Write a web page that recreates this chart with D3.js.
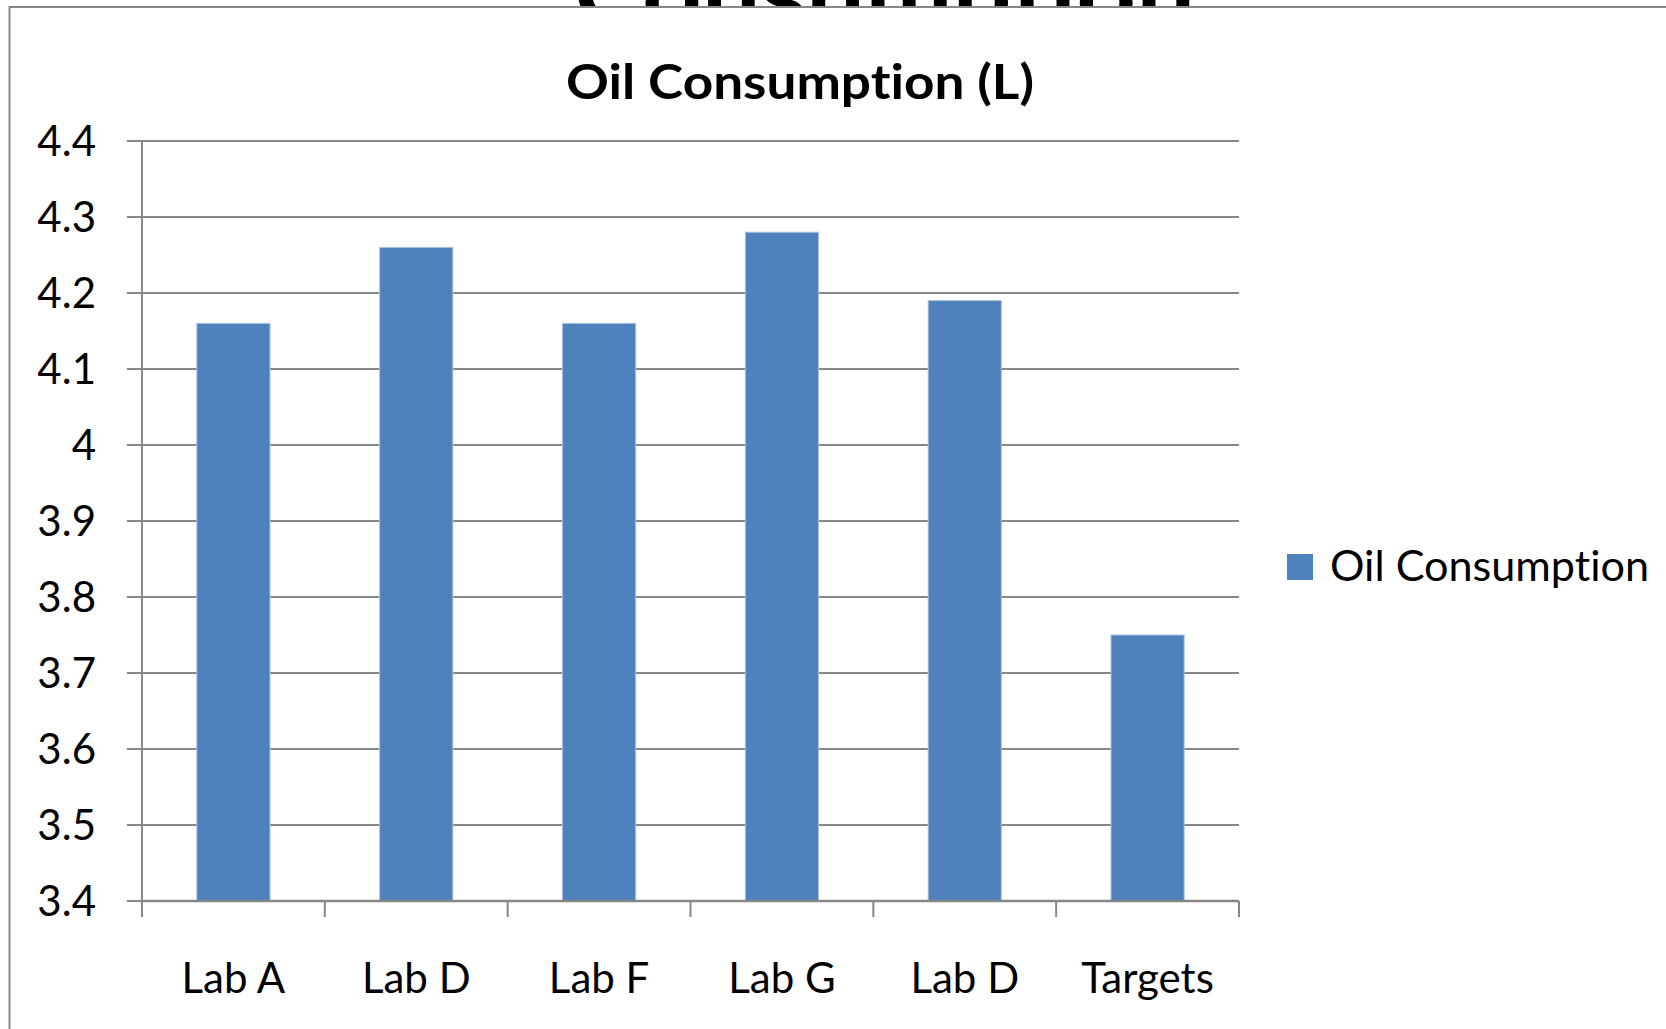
<!DOCTYPE html>
<html>
<head>
<meta charset="utf-8">
<script src="https://cdn.jsdelivr.net/npm/d3@7"></script>
<style>
  html, body { margin: 0; padding: 0; background: #fff; }
  svg text { font-family: Lato, "Open Sans", sans-serif; fill: #000; font-variant-ligatures: none; }
</style>
</head>
<body>
<div id="chart"></div>
<script>
const categories = ["Lab A", "Lab D", "Lab F", "Lab G", "Lab D", "Targets"];
const values = [4.16, 4.26, 4.16, 4.28, 4.19, 3.75];
const yTicks = [3.4, 3.5, 3.6, 3.7, 3.8, 3.9, 4, 4.1, 4.2, 4.3, 4.4];
const seriesName = "Oil Consumption";
const chartTitle = "Oil Consumption (L)";

const width = 1666, height = 1029;
const gridColor = '#878787';
const barColor = '#4F81BD';

const svg = d3.select("#chart").append("svg")
  .attr("width", width).attr("height", height);

// slide heading sitting behind the chart box, only its top edge shows
svg.append("text")
  .attr("x", 574).attr("y", 26)
  .attr("font-size", 90).attr("font-weight", "bold")
  .attr("textLength", 621).attr("lengthAdjust", "spacingAndGlyphs")
  .text("Consumption");

// chart box (white) covers the rest of the heading
svg.append("rect")
  .attr("x", 9.5).attr("y", 7).attr("width", width).attr("height", height)
  .attr("fill", "#fff");
svg.append("path")
  .attr("d", "M9.5," + height + "V7H" + width)
  .attr("fill", "none").attr("stroke", gridColor).attr("stroke-width", 2);

const plot = { left: 142, right: 1239, top: 141, bottom: 901 };

// index keys because "Lab D" is there twice
const idx = d3.range(categories.length);
const x = d3.scaleBand().domain(idx).range([plot.left, plot.right])
  .paddingInner(0.6).paddingOuter(0.3);
const xCell = d3.scaleBand().domain(idx).range([plot.left, plot.right]).padding(0);
const y = d3.scaleLinear().domain([3.4, 4.4]).range([plot.bottom, plot.top]);

// gridlines + y ticks
svg.append("g").selectAll("line").data(yTicks).join("line")
  .attr("x1", plot.left - 15).attr("x2", plot.right)
  .attr("y1", d => y(d)).attr("y2", d => y(d))
  .attr("stroke", gridColor).attr("stroke-width", 2);

svg.append("g").selectAll("text").data(yTicks).join("text")
  .attr("x", 96).attr("y", d => y(d) + 15)
  .attr("text-anchor", "end").attr("font-size", 42)
  .text(d => d3.format("")(d));

// bars
svg.append("g").selectAll("rect").data(values).join("rect")
  .attr("x", (d, i) => x(i)).attr("width", x.bandwidth())
  .attr("y", d => y(d)).attr("height", d => y(3.4) - y(d))
  .attr("fill", barColor).attr("stroke", "#a9c1de").attr("stroke-width", 1);

// y axis line
svg.append("line")
  .attr("x1", plot.left).attr("x2", plot.left)
  .attr("y1", plot.top).attr("y2", plot.bottom)
  .attr("stroke", gridColor).attr("stroke-width", 2);

// x axis line and ticks at category boundaries
svg.append("line")
  .attr("x1", plot.left).attr("x2", plot.right)
  .attr("y1", plot.bottom).attr("y2", plot.bottom)
  .attr("stroke", gridColor).attr("stroke-width", 2.5);

const bounds = idx.map(i => xCell(i)).concat([plot.right]);
svg.append("g").selectAll("line").data(bounds).join("line")
  .attr("x1", d => d).attr("x2", d => d)
  .attr("y1", plot.bottom).attr("y2", plot.bottom + 16)
  .attr("stroke", gridColor).attr("stroke-width", 2);

svg.append("g").selectAll("text").data(categories).join("text")
  .attr("x", (d, i) => xCell(i) + xCell.bandwidth() / 2)
  .attr("y", 993)
  .attr("text-anchor", "middle").attr("font-size", 42)
  .text(d => d);

// title
svg.append("text")
  .attr("x", 800).attr("y", 99)
  .attr("text-anchor", "middle").attr("font-size", 47).attr("font-weight", "bold")
  .attr("textLength", 468).attr("lengthAdjust", "spacingAndGlyphs")
  .text(chartTitle);

// legend
svg.append("rect")
  .attr("x", 1287).attr("y", 554).attr("width", 26).attr("height", 26)
  .attr("fill", barColor);
svg.append("text")
  .attr("x", 1330).attr("y", 581)
  .attr("font-size", 42)
  .attr("textLength", 319).attr("lengthAdjust", "spacingAndGlyphs")
  .text(seriesName);
</script>
</body>
</html>
